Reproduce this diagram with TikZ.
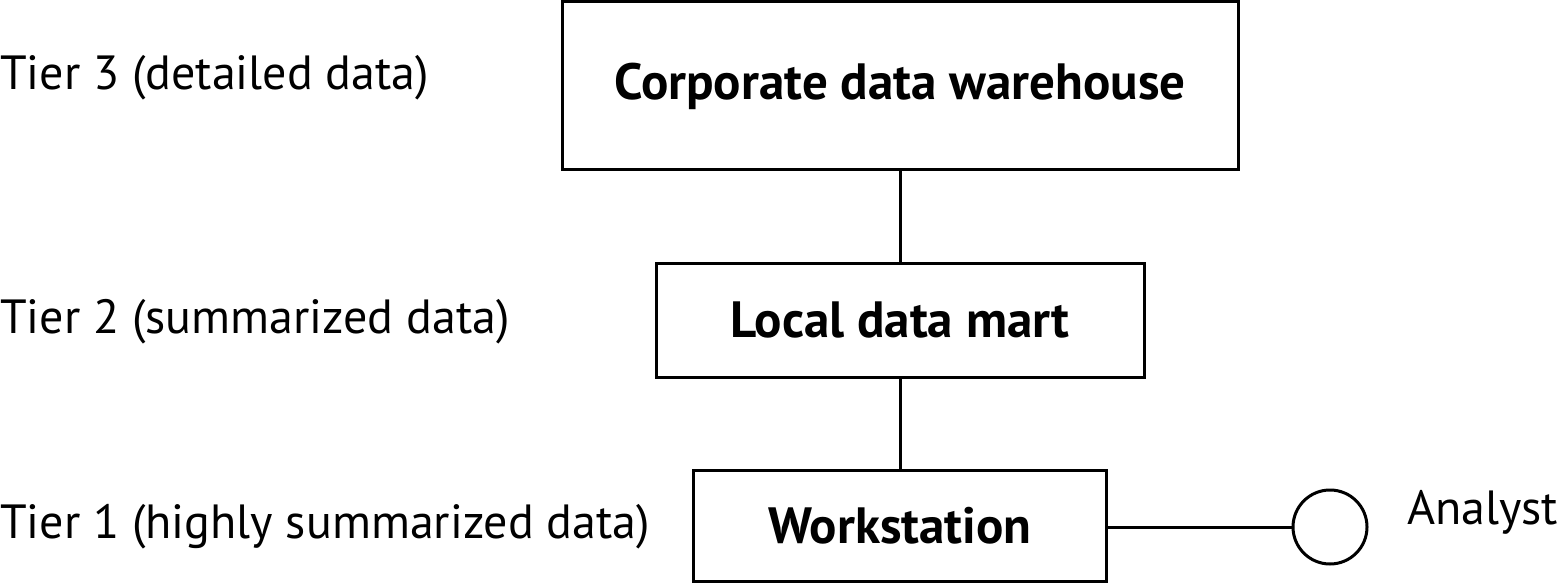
\documentclass[tikz,border=0pt]{standalone}
\usepackage{fontspec}
\setmainfont{PT Sans}
\begin{document}
\begin{tikzpicture}[x=1pt,y=-1pt,
  box/.style={draw,line width=3pt,inner sep=0pt,font=\fontsize{51}{60}\selectfont\bfseries},
  tier/.style={anchor=west,inner sep=0pt,font=\fontsize{48}{56}\selectfont},
  link/.style={line width=3pt}]
\useasboundingbox (0,0) rectangle (1560,585);
\node[box,minimum width=676pt,minimum height=168pt] (cdw) at (900,86) {Corporate data warehouse};
\node[box,minimum width=488pt,minimum height=113pt] (ldm) at (900,320.5) {Local data mart};
\node[box,minimum width=413pt,minimum height=111pt] (ws) at (900,526) {Workstation};
\node[draw,circle,line width=3pt,minimum size=74pt,inner sep=0pt] (an) at (1330,527) {};
\node[tier] (analyst) at (1407,512) {Analyst};
\node[tier] (t3) at (0,78) {Tier 3 (detailed data)};
\node[tier] (t2) at (0,322) {Tier 2 (summarized data)};
\node[tier] (t1) at (0,527) {Tier 1 (highly summarized data)};
\draw[link] (cdw.south) -- (ldm.north);
\draw[link] (ldm.south) -- (ws.north);
\draw[link] (ws.east |- an.west) -- (an.west);
\end{tikzpicture}
\end{document}
